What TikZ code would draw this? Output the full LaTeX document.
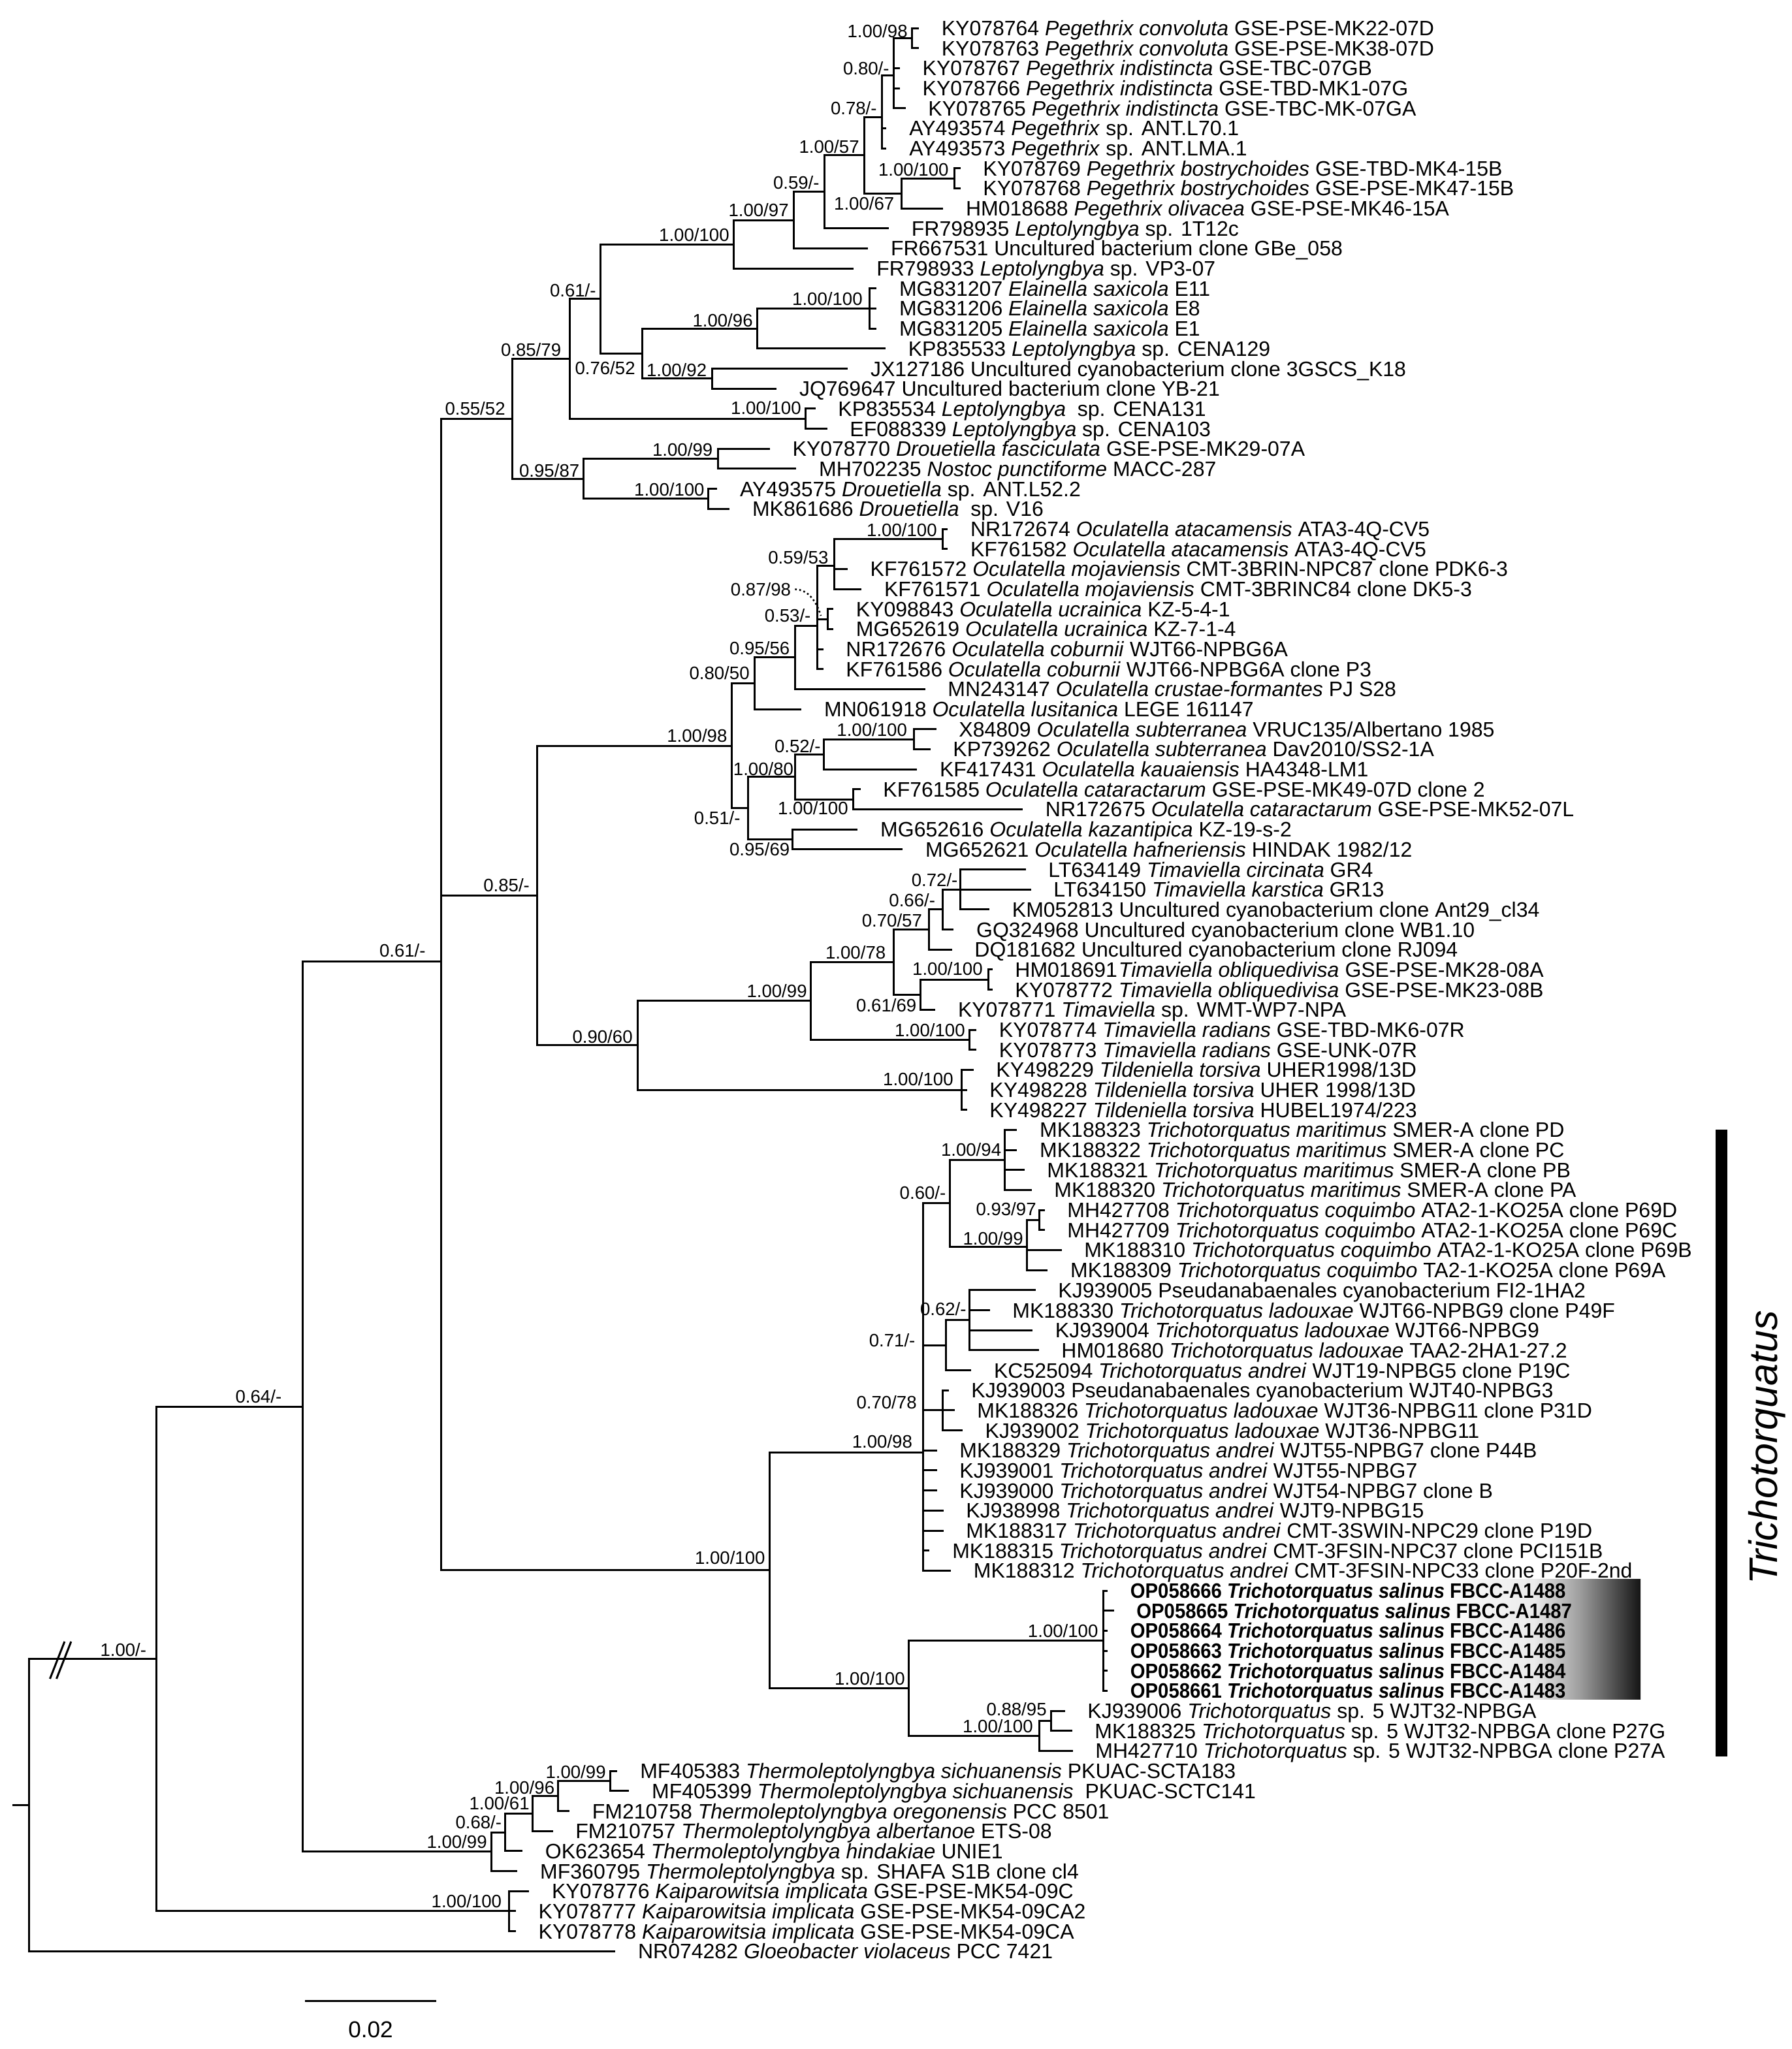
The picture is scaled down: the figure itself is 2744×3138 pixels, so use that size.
\documentclass[tikz,border=0pt]{standalone}
\usepackage{fontspec}
\setmainfont{Liberation Sans}
\usepackage{graphicx}
\usetikzlibrary{calc}
\pgfmathdeclarefunction{rw}{1}{\pgfmathparse{43+(#1-1)*30.68}}
\pgfdeclarehorizontalshading{salgrad}{100bp}{color(0bp)=(white); color(25bp)=(white); color(49bp)=(black!8); color(60bp)=(black!38); color(75bp)=(black!92); color(100bp)=(black!92)}
\tikzset{
  br/.style={line width=1.5pt, line cap=rect},
  tip/.style={anchor=west, inner sep=0pt, font=\fontsize{16}{18}\selectfont, text height=11.46pt, text depth=0pt},
  sup/.style={anchor=east, inner sep=0pt, font=\fontsize{13.8}{16}\selectfont, text height=9.88pt, text depth=0pt},
}
\newcommand{\tipn}[3]{\coordinate (t#1) at (#2,{rw(#1)}); \node[tip] (L#1) at ([xshift=18pt]t#1) {#3};}
\newcommand{\sv}[4]{\node[sup] (#1) at (#2,#3) {#4};}
\newcommand{\salin}[2]{\scalebox{0.915}[1]{\bfseries #1 \textit{Trichotorquatus salinus} #2}}
\begin{document}
\begin{tikzpicture}[x=0.5pt,y=-0.5pt]
\useasboundingbox (0,0) rectangle (2744,3138);
% gradient behind the new strains
\shade[shading=salgrad] (2200,2418) rectangle (2512,2602);
% ---------- tips ----------
\tipn{1}{1405.4}{KY078764 \textit{Pegethrix convoluta} GSE-PSE-MK22-07D}
\tipn{2}{1405.4}{KY078763 \textit{Pegethrix convoluta} GSE-PSE-MK38-07D}
\tipn{3}{1376.3}{KY078767 \textit{Pegethrix indistincta} GSE-TBC-07GB}
\tipn{4}{1376.3}{KY078766 \textit{Pegethrix indistincta} GSE-TBD-MK1-07G}
\tipn{5}{1385}{KY078765 \textit{Pegethrix indistincta} GSE-TBC-MK-07GA}
\tipn{6}{1355.9}{AY493574 \textit{Pegethrix} sp. ANT.L70.1}
\tipn{7}{1355.9}{AY493573 \textit{Pegethrix} sp. ANT.LMA.1}
\tipn{8}{1469}{KY078769 \textit{Pegethrix bostrychoides} GSE-TBD-MK4-15B}
\tipn{9}{1469}{KY078768 \textit{Pegethrix bostrychoides} GSE-PSE-MK47-15B}
\tipn{10}{1442.7}{HM018688 \textit{Pegethrix olivacea} GSE-PSE-MK46-15A}
\tipn{11}{1359.5}{FR798935 \textit{Leptolyngbya} sp. 1T12c}
\tipn{12}{1327.6}{FR667531 Uncultured bacterium clone GBe\_058}
\tipn{13}{1305.9}{FR798933 \textit{Leptolyngbya} sp. VP3-07}
\tipn{14}{1340.6}{MG831207 \textit{Elainella saxicola} E11}
\tipn{15}{1340.6}{MG831206 \textit{Elainella saxicola} E8}
\tipn{16}{1340.6}{MG831205 \textit{Elainella saxicola} E1}
\tipn{17}{1354.4}{KP835533 \textit{Leptolyngbya} sp. CENA129}
\tipn{18}{1296.7}{JX127186 Uncultured cyanobacterium clone 3GSCS\_K18}
\tipn{19}{1187.6}{JQ769647 Uncultured bacterium clone YB-21}
\tipn{20}{1247}{KP835534 \textit{Leptolyngbya}\ \ sp. CENA131}
\tipn{21}{1265}{EF088339 \textit{Leptolyngbya} sp. CENA103}
\tipn{22}{1177.3}{KY078770 \textit{Drouetiella fasciculata} GSE-PSE-MK29-07A}
\tipn{23}{1217.7}{MH702235 \textit{Nostoc punctiforme} MACC-287}
\tipn{24}{1096.7}{AY493575 \textit{Drouetiella} sp. ANT.L52.2}
\tipn{25}{1115.6}{MK861686 \textit{Drouetiella}\ \ sp. V16}
\tipn{26}{1449.6}{NR172674 \textit{Oculatella atacamensis} ATA3-4Q-CV5}
\tipn{27}{1449.6}{KF761582 \textit{Oculatella atacamensis} ATA3-4Q-CV5}
\tipn{28}{1296.3}{KF761572 \textit{Oculatella mojaviensis} CMT-3BRIN-NPC87 clone PDK6-3}
\tipn{29}{1317.6}{KF761571 \textit{Oculatella mojaviensis} CMT-3BRINC84 clone DK5-3}
\tipn{30}{1274.5}{KY098843 \textit{Oculatella ucrainica} KZ-5-4-1}
\tipn{31}{1274.5}{MG652619 \textit{Oculatella ucrainica} KZ-7-1-4}
\tipn{32}{1259}{NR172676 \textit{Oculatella coburnii} WJT66-NPBG6A}
\tipn{33}{1259}{KF761586 \textit{Oculatella coburnii} WJT66-NPBG6A clone P3}
\tipn{34}{1415}{MN243147 \textit{Oculatella crustae-formantes} PJ S28}
\tipn{35}{1225.7}{MN061918 \textit{Oculatella lusitanica} LEGE 161147}
\tipn{36}{1432}{X84809 \textit{Oculatella subterranea} VRUC135/Albertano 1985}
\tipn{37}{1423}{KP739262 \textit{Oculatella subterranea} Dav2010/SS2-1A}
\tipn{38}{1402.6}{KF417431 \textit{Oculatella kauaiensis} HA4348-LM1}
\tipn{39}{1316}{KF761585 \textit{Oculatella cataractarum} GSE-PSE-MK49-07D clone 2}
\tipn{40}{1564.5}{NR172675 \textit{Oculatella cataractarum} GSE-PSE-MK52-07L}
\tipn{41}{1311.8}{MG652616 \textit{Oculatella kazantipica} KZ-19-s-2}
\tipn{42}{1380.7}{MG652621 \textit{Oculatella hafneriensis} HINDAK 1982/12}
\tipn{43}{1569}{LT634149 \textit{Timaviella circinata} GR4}
\tipn{44}{1577}{LT634150 \textit{Timaviella karstica} GR13}
\tipn{45}{1513.5}{KM052813 Uncultured cyanobacterium clone Ant29\_cl34}
\tipn{46}{1458.7}{GQ324968 Uncultured cyanobacterium clone WB1.10}
\tipn{47}{1456}{DQ181682 Uncultured cyanobacterium clone RJ094}
\tipn{48}{1518}{HM018691\kern1pt\textit{Timaviella obliquedivisa} GSE-PSE-MK28-08A}
\tipn{49}{1518}{KY078772 \textit{Timaviella obliquedivisa} GSE-PSE-MK23-08B}
\tipn{50}{1430.6}{KY078771 \textit{Timaviella} sp. WMT-WP7-NPA}
\tipn{51}{1493.5}{KY078774 \textit{Timaviella radians} GSE-TBD-MK6-07R}
\tipn{52}{1493.5}{KY078773 \textit{Timaviella radians} GSE-UNK-07R}
\tipn{53}{1489}{KY498229 \textit{Tildeniella torsiva} UHER1998/13D}
\tipn{54}{1479}{KY498228 \textit{Tildeniella torsiva} UHER 1998/13D}
\tipn{55}{1479}{KY498227 \textit{Tildeniella torsiva} HUBEL1974/223}
\tipn{56}{1555.8}{MK188323 \textit{Trichotorquatus maritimus} SMER-A clone PD}
\tipn{57}{1555.8}{MK188322 \textit{Trichotorquatus maritimus} SMER-A clone PC}
\tipn{58}{1567}{MK188321 \textit{Trichotorquatus maritimus} SMER-A clone PB}
\tipn{59}{1578}{MK188320 \textit{Trichotorquatus maritimus} SMER-A clone PA}
\tipn{60}{1598}{MH427708 \textit{Trichotorquatus coquimbo} ATA2-1-KO25A clone P69D}
\tipn{61}{1598}{MH427709 \textit{Trichotorquatus coquimbo} ATA2-1-KO25A clone P69C}
\tipn{62}{1624}{MK188310 \textit{Trichotorquatus coquimbo} ATA2-1-KO25A clone P69B}
\tipn{63}{1602.7}{MK188309 \textit{Trichotorquatus coquimbo} TA2-1-KO25A clone P69A}
\tipn{64}{1584}{KJ939005 Pseudanabaenales cyanobacterium FI2-1HA2}
\tipn{65}{1514}{MK188330 \textit{Trichotorquatus ladouxae} WJT66-NPBG9 clone P49F}
\tipn{66}{1579.5}{KJ939004 \textit{Trichotorquatus ladouxae} WJT66-NPBG9}
\tipn{67}{1589}{HM018680 \textit{Trichotorquatus ladouxae} TAA2-2HA1-27.2}
\tipn{68}{1485.7}{KC525094 \textit{Trichotorquatus andrei} WJT19-NPBG5 clone P19C}
\tipn{69}{1451}{KJ939003 Pseudanabaenales cyanobacterium WJT40-NPBG3}
\tipn{70}{1460}{MK188326 \textit{Trichotorquatus ladouxae} WJT36-NPBG11 clone P31D}
\tipn{71}{1472.3}{KJ939002 \textit{Trichotorquatus ladouxae} WJT36-NPBG11}
\tipn{72}{1433}{MK188329 \textit{Trichotorquatus andrei} WJT55-NPBG7 clone P44B}
\tipn{73}{1433}{KJ939001 \textit{Trichotorquatus andrei} WJT55-NPBG7}
\tipn{74}{1433}{KJ939000 \textit{Trichotorquatus andrei} WJT54-NPBG7 clone B}
\tipn{75}{1443}{KJ938998 \textit{Trichotorquatus andrei} WJT9-NPBG15}
\tipn{76}{1443}{MK188317 \textit{Trichotorquatus andrei} CMT-3SWIN-NPC29 clone P19D}
\tipn{77}{1421.9}{MK188315 \textit{Trichotorquatus andrei} CMT-3FSIN-NPC37 clone PCI151B}
\tipn{78}{1454.5}{MK188312 \textit{Trichotorquatus andrei} CMT-3FSIN-NPC33 clone P20F-2nd}
\tipn{79}{1694.5}{\salin{OP058666}{FBCC-A1488}}
\tipn{80}{1704}{\salin{OP058665}{FBCC-A1487}}
\tipn{81}{1694.5}{\salin{OP058664}{FBCC-A1486}}
\tipn{82}{1694.5}{\salin{OP058663}{FBCC-A1485}}
\tipn{83}{1694.5}{\salin{OP058662}{FBCC-A1484}}
\tipn{84}{1694.5}{\salin{OP058661}{FBCC-A1483}}
\tipn{85}{1629}{KJ939006 \textit{Trichotorquatus} sp. 5 WJT32-NPBGA}
\tipn{86}{1640}{MK188325 \textit{Trichotorquatus} sp. 5 WJT32-NPBGA clone P27G}
\tipn{87}{1641}{MH427710 \textit{Trichotorquatus} sp. 5 WJT32-NPBGA clone P27A}
\tipn{88}{943.9}{MF405383 \textit{Thermoleptolyngbya sichuanensis} PKUAC-SCTA183}
\tipn{89}{961.7}{MF405399 \textit{Thermoleptolyngbya sichuanensis}\ \ PKUAC-SCTC141}
\tipn{90}{870.5}{FM210758 \textit{Thermoleptolyngbya oregonensis} PCC 8501}
\tipn{91}{845}{FM210757 \textit{Thermoleptolyngbya albertanoe} ETS-08}
\tipn{92}{798.5}{OK623654 \textit{Thermoleptolyngbya hindakiae} UNIE1}
\tipn{93}{790.8}{MF360795 \textit{Thermoleptolyngbya} sp. SHAFA S1B clone cl4}
\tipn{94}{808.7}{KY078776 \textit{Kaiparowitsia implicata} GSE-PSE-MK54-09C}
\tipn{95}{788.3}{KY078777 \textit{Kaiparowitsia implicata} GSE-PSE-MK54-09CA2}
\tipn{96}{788.3}{KY078778 \textit{Kaiparowitsia implicata} GSE-PSE-MK54-09CA}
\tipn{97}{940.7}{NR074282 \textit{Gloeobacter violaceus} PCC 7421}
% ---------- internal nodes ----------
\coordinate (Na) at (1396.7,58.34);
\coordinate (Nb) at (1368.2,115.87);
\coordinate (Nc) at (1350.3,179.78);
\coordinate (Nd) at (1461.5,273.10);
\coordinate (Ne) at (1380.9,296.11);
\coordinate (Nf) at (1323.8,237.95);
\coordinate (Ng) at (1262.6,293.88);
\coordinate (Nh) at (1215.6,337.18);
\coordinate (Ni) at (1123.8,374.17);
\coordinate (Nj) at (1331.4,472.52);
\coordinate (Nk) at (1159,503.20);
\coordinate (Nl) at (1090,579.90);
\coordinate (Nm) at (983.5,541.55);
\coordinate (Nn) at (919.7,457.86);
\coordinate (No) at (1233.5,641.26);
\coordinate (Np) at (872.2,549.56);
\coordinate (Nq) at (1099.3,702.62);
\coordinate (Nr) at (1084,763.98);
\coordinate (Ns) at (893.7,733.30);
\coordinate (Nt) at (784,641.43);
\coordinate (Oa) at (1443.9,825.34);
\coordinate (Ob) at (1277.4,866.25);
\coordinate (Oc) at (1267.6,948.06);
\coordinate (Od) at (1251.6,958.29);
\coordinate (Oe) at (1217.1,1006.87);
\coordinate (Of) at (1155.1,1046.49);
\coordinate (Og) at (1399.6,1132.14);
\coordinate (Oh) at (1261.9,1155.15);
\coordinate (Oi) at (1306,1224.18);
\coordinate (Oj) at (1217.1,1189.67);
\coordinate (Ok) at (1213,1285.54);
\coordinate (Ol) at (1145.4,1237.60);
\coordinate (Om) at (1120.7,1142.05);
\coordinate (Ta) at (1470.8,1362.24);
\coordinate (Tb) at (1443.9,1392.92);
\coordinate (Tc) at (1422.6,1423.60);
\coordinate (Td) at (1513.5,1500.30);
\coordinate (Te) at (1409.4,1523.31);
\coordinate (Tf) at (1368,1473.46);
\coordinate (Tg) at (1484,1592.34);
\coordinate (Th) at (1241.2,1532.90);
\coordinate (Ti) at (1472,1669.04);
\coordinate (Tj) at (976,1600.97);
\coordinate (N85) at (822.7,1371.51);
\coordinate (Ra) at (1538,1776.42);
\coordinate (Rb) at (1591.5,1868.46);
\coordinate (Rc) at (1572.8,1909.37);
\coordinate (Rd) at (1454.5,1842.90);
\coordinate (Re) at (1484.4,2021.86);
\coordinate (Rf) at (1448.7,2060.21);
\coordinate (Rg) at (1443.3,2159.92);
\coordinate (R98) at (1413,2224);
\coordinate (Rs) at (1689,2512.74);
\coordinate (Rt) at (1609,2635.46);
\coordinate (Ru) at (1591,2658.47);
\coordinate (Rv) at (1391.5,2585.61);
\coordinate (Rw) at (1178.6,2404.8);
\coordinate (N61) at (675,1472.58);
\coordinate (Ha) at (934.3,2727.50);
\coordinate (Hb) at (854.6,2750.51);
\coordinate (Hc) at (815,2777.36);
\coordinate (Hd) at (773.6,2806.12);
\coordinate (He) at (752.6,2835.84);
\coordinate (N64) at (463.5,2154.21);
\coordinate (K) at (779.3,2926.92);
\coordinate (N1) at (239.8,2540.57);
\coordinate (Root) at (44.6,2764.43);
\coordinate (Rstub) at (20.4,2764.43);
% ---------- branches ----------
\foreach \p/\c in {Na/t1,Na/t2,Nb/Na,Nb/t3,Nb/t4,Nb/t5,Nc/Nb,Nc/t6,Nc/t7,
  Nd/t8,Nd/t9,Ne/Nd,Ne/t10,Nf/Nc,Nf/Ne,Ng/Nf,Ng/t11,Nh/Ng,Nh/t12,Ni/Nh,Ni/t13,
  Nj/t14,Nj/t15,Nj/t16,Nk/Nj,Nk/t17,Nl/t18,Nl/t19,Nm/Nk,Nm/Nl,Nn/Ni,Nn/Nm,
  No/t20,No/t21,Np/Nn,Np/No,Nq/t22,Nq/t23,Nr/t24,Nr/t25,Ns/Nq,Ns/Nr,Nt/Np,Nt/Ns,
  Oa/t26,Oa/t27,Ob/Oa,Ob/t28,Ob/t29,Oc/t30,Oc/t31,Od/Ob,Od/Oc,Od/t32,Od/t33,
  Oe/Od,Oe/t34,Of/Oe,Of/t35,Og/t36,Og/t37,Oh/Og,Oh/t38,Oi/t39,Oi/t40,Oj/Oh,Oj/Oi,
  Ok/t41,Ok/t42,Ol/Oj,Ol/Ok,Om/Of,Om/Ol,
  Ta/t43,Ta/t44,Ta/t45,Tb/Ta,Tb/t46,Tc/Tb,Tc/t47,Td/t48,Td/t49,Te/Td,Te/t50,
  Tf/Tc,Tf/Te,Tg/t51,Tg/t52,Th/Tf,Th/Tg,Ti/t53,Ti/t54,Ti/t55,Tj/Th,Tj/Ti,
  N85/Om,N85/Tj,
  Ra/t56,Ra/t57,Ra/t58,Ra/t59,Rb/t60,Rb/t61,Rc/Rb,Rc/t62,Rc/t63,Rd/Ra,Rd/Rc,
  Re/t64,Re/t65,Re/t66,Re/t67,Rf/Re,Rf/t68,Rg/t69,Rg/t70,Rg/t71,
  R98/Rd,R98/Rf,R98/Rg,R98/t72,R98/t73,R98/t74,R98/t75,R98/t76,R98/t77,R98/t78,
  Rs/t79,Rs/t80,Rs/t81,Rs/t82,Rs/t83,Rs/t84,Rt/t85,Rt/t86,Ru/Rt,Ru/t87,
  Rv/Rs,Rv/Ru,Rw/R98,Rw/Rv,N61/Nt,N61/N85,N61/Rw,
  Ha/t88,Ha/t89,Hb/Ha,Hb/t90,Hc/Hb,Hc/t91,Hd/Hc,Hd/t92,He/Hd,He/t93,
  N64/N61,N64/He,K/t94,K/t95,K/t96,N1/N64,N1/K,Root/N1,Root/t97}
  \draw[br] (\p) |- (\c);
\draw[br] (Rstub) -- (Root);
% break marks on the root branch
\draw[line width=1.5pt] (76.5,2571) -- (98.9,2514);
\draw[line width=1.5pt] (86.5,2571) -- (108.9,2514);
% ---------- support values ----------
\sv{s1}{1390}{48}{1.00/98}
\sv{s2}{1362}{104.6}{0.80/-}
\sv{s3}{1343}{166}{0.78/-}
\sv{s4}{1452.9}{260}{1.00/100}
\sv{s5}{1369.7}{312}{1.00/67}
\sv{s6}{1316}{224.5}{1.00/57}
\sv{s7}{1255}{279.6}{0.59/-}
\sv{s8}{1208}{322}{1.00/97}
\sv{s9}{1117}{359.7}{1.00/100}
\sv{s10}{1321}{457.7}{1.00/100}
\sv{s11}{1153}{490.8}{1.00/96}
\sv{s12}{1082.5}{566.3}{1.00/92}
\sv{s13}{973}{563.8}{0.76/52}
\sv{s14}{913}{445}{0.61/-}
\sv{s15}{1227}{625}{1.00/100}
\sv{s16}{859.5}{535.7}{0.85/79}
\sv{s17}{1091.6}{688.8}{1.00/99}
\sv{s18}{1079}{750}{1.00/100}
\sv{s19}{887.6}{720.4}{0.95/87}
\sv{s20}{774}{626}{0.55/52}
\sv{s21}{1435}{811.8}{1.00/100}
\sv{s22}{1268.8}{853.5}{0.59/53}
\sv{s23}{1211.4}{902.5}{0.87/98}
\sv{s24}{1241.8}{942.3}{0.53/-}
\sv{s25}{1209.6}{993.1}{0.95/56}
\sv{s26}{1148}{1031}{0.80/50}
\sv{s27}{1389.3}{1118}{1.00/100}
\sv{s28}{1257}{1142.5}{0.52/-}
\sv{s29}{1215.4}{1178}{1.00/80}
\sv{s30}{1299}{1238}{1.00/100}
\sv{s31}{1133.9}{1252.8}{0.51/-}
\sv{s32}{1209.6}{1300.5}{0.95/69}
\sv{s33}{1113.8}{1126.6}{1.00/98}
\sv{s34}{811.3}{1355.6}{0.85/-}
\sv{s35}{1466.8}{1347.7}{0.72/-}
\sv{s36}{1432.4}{1378.9}{0.66/-}
\sv{s37}{1412.3}{1409.5}{0.70/57}
\sv{s38}{1505}{1484}{1.00/100}
\sv{s39}{1403.7}{1539.3}{0.61/69}
\sv{s40}{1356.6}{1458.5}{1.00/78}
\sv{s41}{1478}{1577.9}{1.00/100}
\sv{s42}{1236}{1517.9}{1.00/99}
\sv{s43}{1460}{1652.6}{1.00/100}
\sv{s44}{969}{1587.1}{0.90/60}
\sv{s45}{652}{1456}{0.61/-}
\sv{s46}{431.6}{2139}{0.64/-}
\sv{s47}{224.5}{2527}{1.00/-}
\sv{s48}{1533.5}{1760.3}{1.00/94}
\sv{s49}{1587}{1852}{0.93/97}
\sv{s50}{1567}{1896.3}{1.00/99}
\sv{s51}{1448.7}{1826.3}{0.60/-}
\sv{s52}{1480}{2004.2}{0.62/-}
\sv{s53}{1401.8}{2053}{0.71/-}
\sv{s54}{1404}{2147.8}{0.70/78}
\sv{s55}{1397.3}{2208}{1.00/98}
\sv{s56}{1171.9}{2386}{1.00/100}
\sv{s57}{1386}{2571}{1.00/100}
\sv{s58}{1681.8}{2498}{1.00/100}
\sv{s59}{1603}{2618}{0.88/95}
\sv{s60}{1582}{2644}{1.00/100}
\sv{s61}{928}{2714}{1.00/99}
\sv{s62}{849.5}{2737.2}{1.00/96}
\sv{s63}{811}{2761.7}{1.00/61}
\sv{s64}{768.5}{2790.8}{0.68/-}
\sv{s65}{746}{2820.4}{1.00/99}
\sv{s66}{768.5}{2912}{1.00/100}
% dotted leader from 0.87/98 to its node
\coordinate (lead) at (1257,943);
\draw[dotted, line width=1.3pt] ([xshift=3pt]s23.east) .. controls (1238,903) and (1250,921) .. (lead);
% ---------- clade bar ----------
\fill (2627,1730) rectangle (2645,2690);
\node[rotate=90, inner sep=0pt, font=\fontsize{30.5}{34}\selectfont\itshape] (clade) at (2706,2217) {Trichotorquatus};
% ---------- scale bar ----------
\coordinate (sbL) at (468.3,3064);
\coordinate (sbR) at (666.7,3064);
\draw[br] (sbL) -- (sbR);
\node[inner sep=0pt, font=\fontsize{17.6}{20}\selectfont, text height=12.6pt, text depth=0pt] (sblab) at (567.5,3108) {0.02};
\end{tikzpicture}
\end{document}
